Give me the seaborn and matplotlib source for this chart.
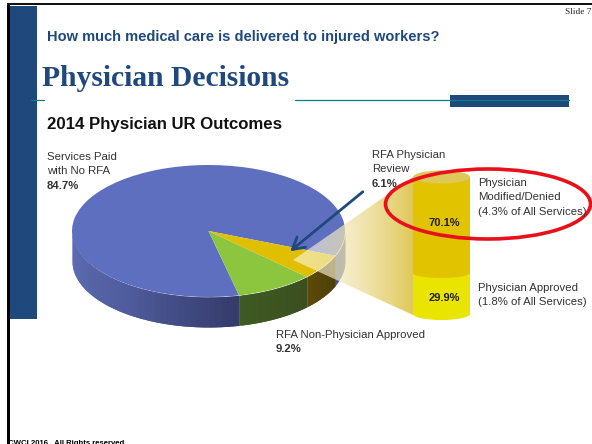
import numpy as np
import matplotlib
matplotlib.use('Agg')
import matplotlib.pyplot as plt
from matplotlib.patches import Ellipse, Polygon, Rectangle
import seaborn as sns

# values
pie_labels = ['Services Paid with No RFA', 'RFA Non-Physician Approved', 'RFA Physician Review']
pie_shares = [84.7, 9.2, 6.1]
pie_colors = ['#5F6FBF', '#8CC63F', '#E0BE00']
side_colors = [['#5F6DB4', '#4F5C9C', '#333A68'], ['#3F5A22', '#3B4E20'], ['#5C4A08', '#4A3C08']]
stack_names = ['Physician Modified/Denied', 'Physician Approved']
stack_shares = [70.1, 29.9]

W, H = 592, 444
sns.set_theme(style='white')
plt.rcParams['font.family'] = ['Liberation Sans', 'DejaVu Sans']

fig = plt.figure(figsize=(W / 100, H / 100), dpi=100)


def px_axes(x0, y0, x1, y1, z):
    # axes placed by pixel box, y counted from the top
    a = fig.add_axes([x0 / W, 1 - y1 / H, (x1 - x0) / W, (y1 - y0) / H], zorder=z)
    a.patch.set_alpha(0)
    return a


# background layer, pixel coordinates
back = px_axes(0, 0, W, H, 0)
back.set_xlim(0, W)
back.set_ylim(H, 0)
back.axis('off')

# pie side wall
cx, cy, rx, ry, depth = 208.5, 231, 136.5, 66, 30
start = -22
angles = start + np.cumsum([0] + pie_shares) * 3.6
wall = [(angles[0] - 360, angles[1] - 360), (angles[1] - 360, angles[2] - 360), (angles[2] - 360, angles[3] - 360)]
for (a0, a1), cols in zip(wall, side_colors):
    a0 = max(a0, -180)
    a1 = min(a1, 0)
    if a1 <= a0:
        a0, a1 = max(-180, angles[0]), min(0, angles[1] - 360)
    n = 40
    strip = sns.blend_palette(cols, n)
    t = np.radians(np.linspace(a0, a1, n + 1))
    # each strip runs into the next one so no seams show
    for i in range(n):
        xs = cx + rx * np.cos(t[i:i + 3])
        ys = cy - ry * np.sin(t[i:i + 3])
        back.fill_between(xs, ys, ys + depth, color=strip[i], lw=0, zorder=2 + (n - i) / n)
# blue wall right of the yellow slice
t = np.radians(np.linspace(start, 0, 12))
xs = cx + rx * np.cos(t)
ys = cy - ry * np.sin(t)
back.fill_between(xs, ys, ys + depth, color='#4A5590', lw=0, zorder=1)

# pie top face
pie_ax = px_axes(cx - rx, cy - ry, cx + rx, cy + ry, 1)
pie_ax.pie(pie_shares, colors=pie_colors, startangle=start, radius=1, wedgeprops={'lw': 0})
pie_ax.set_aspect('auto')
pie_ax.set_xlim(-1, 1)
pie_ax.set_ylim(-1, 1)

# cylinder as stacked bars
bx0, bx1, by0, by1 = 413, 470, 177, 314
bar_ax = px_axes(bx0, by0, bx1, by1, 3)
sns.barplot(x=['share'], y=[sum(stack_shares)], color='#E2C300', saturation=1, width=1, linewidth=0, ax=bar_ax)
sns.barplot(x=['share'], y=[stack_shares[1]], color='#E9E400', saturation=1, width=1, linewidth=0, ax=bar_ax)
bar_ax.set_xlim(-0.5, 0.5)
bar_ax.set_ylim(0, sum(stack_shares))
bar_ax.axis('off')

# overlay layer
top = px_axes(0, 0, W, H, 2)
top.set_xlim(0, W)
top.set_ylim(H, 0)
top.axis('off')

# zoom cone with gradient
grad = np.zeros((2, 256, 4))
ramp = np.linspace(0, 1, 256)
grad[..., 0] = 1 - ramp * (1 - 0.87)
grad[..., 1] = 1 - ramp * (1 - 0.77)
grad[..., 2] = 1 - ramp * (1 - 0.30)
grad[..., 3] = 0.55 + 0.4 * ramp
cone = Polygon([(293, 260), (413, 177), (415, 177), (415, 315), (413, 315)],
               transform=top.transData, fc='none', ec='none')
top.add_patch(cone)
im = top.imshow(grad, extent=(293, 415, 315, 177), aspect='auto', zorder=1)
im.set_clip_path(cone)
top.set_xlim(0, W)
top.set_ylim(H, 0)

over = px_axes(0, 0, W, H, 4)
over.set_xlim(0, W)
over.set_ylim(H, 0)
over.axis('off')

bcx, bw = (bx0 + bx1) / 2, bx1 - bx0
split_y = by1 - (by1 - by0) * stack_shares[1] / sum(stack_shares)
over.add_patch(Ellipse((bcx, by1), bw, 12, fc='#E9E400', ec='none', zorder=1))
over.add_patch(Ellipse((bcx, split_y), bw, 10, fc='#E2C300', ec='none', zorder=2))
over.add_patch(Ellipse((bcx, by0), bw, 13, fc='#DDC858', ec='none', zorder=2))

# slide furniture
over.add_patch(Rectangle((9, 6), 28, 313, fc='#1F497D', ec='none'))
over.add_patch(Rectangle((7, 3), 2.5, 441, fc='black', ec='none'))
over.add_patch(Rectangle((7, 3), 585, 2.5, fc='#111111', ec='none'))
over.add_patch(Rectangle((450, 95), 119, 12, fc='#1F497D', ec='none'))
over.plot([31, 44], [100, 100], color='#008080', lw=0.9)
over.plot([295, 569], [100, 100], color='#008080', lw=0.9)

# arrow and highlight ring
over.annotate('', xy=(288, 253), xytext=(365, 190), zorder=5,
              arrowprops=dict(arrowstyle='->,head_length=0.7,head_width=0.4', color='#1F497D', lw=2))
over.add_patch(Ellipse((488, 204), 205, 70, fc='none', ec='#E8101A', lw=2.6, zorder=6))

navy = '#1F497D'
grey = '#333333'
over.text(47, 36.5, 'How much medical care is delivered to injured workers?', color=navy,
          fontsize=10.5, fontweight='bold', va='center')
over.text(42, 78, 'Physician Decisions', color=navy, fontsize=21.3, fontweight='bold',
          va='center', family=['Liberation Serif', 'DejaVu Serif'])
over.text(47, 124.5, '2014 Physician UR Outcomes', color='#111111', fontsize=12.1, fontweight='bold', va='center')
over.text(591, 12, 'Slide 7', color='#222222', fontsize=6.7, ha='right', va='center',
          family=['Liberation Serif', 'DejaVu Serif'])
over.text(8, 443, 'CWCI 2016.  All Rights reserved', color='black', fontsize=5.6, fontweight='bold', va='center')


def label(x, y, lines, bold_last=True):
    for i, s in enumerate(lines):
        is_bold = bold_last and i == len(lines) - 1
        over.text(x, y + i * 14.3, s, color=grey, fontsize=8.2, va='center', zorder=7,
                  fontweight='bold' if is_bold else 'normal')


label(47, 157, ['Services Paid', 'with No RFA', f'{pie_shares[0]}%'])
label(372, 155, ['RFA Physician', 'Review', f'{pie_shares[2]}%'])
label(276, 335, [pie_labels[1], f'{pie_shares[1]}%'])
label(478, 183, ['Physician', 'Modified/Denied', '(4.3% of All Services)'], False)
label(478, 288, [stack_names[1], '(1.8% of All Services)'], False)
over.text(bcx + 3, 223, f'{stack_shares[0]}%', color='#222222', fontsize=8, fontweight='bold', ha='center', va='center', zorder=7)
over.text(bcx + 3, 298, f'{stack_shares[1]}%', color='#222222', fontsize=8, fontweight='bold', ha='center', va='center', zorder=7)

fig.savefig('out.png', dpi=100)
